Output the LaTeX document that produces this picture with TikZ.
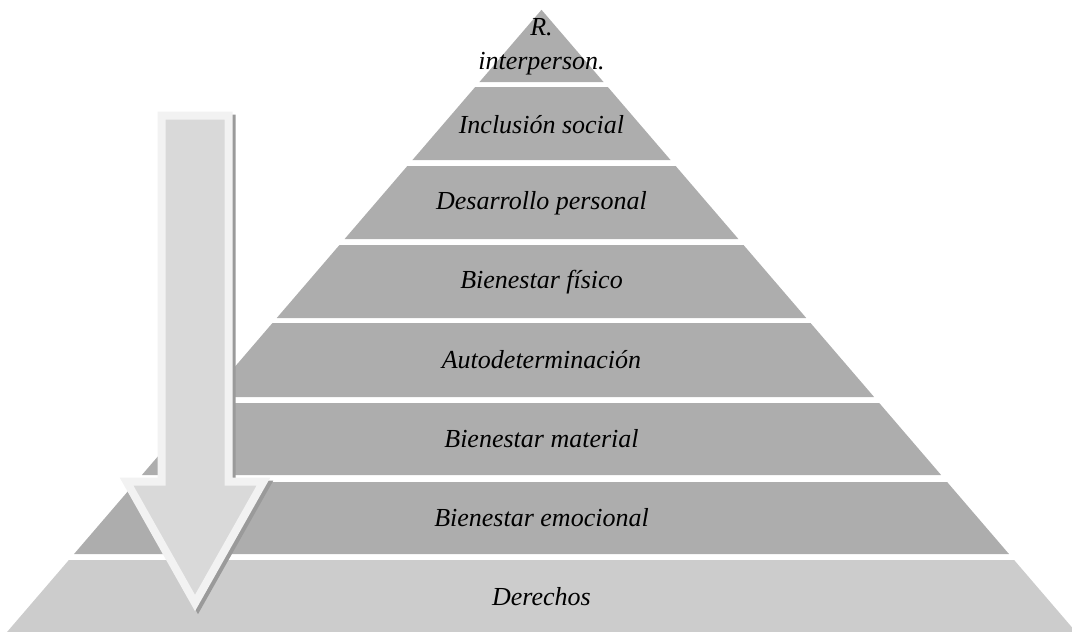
\documentclass[tikz,border=0pt]{standalone}
\usepackage{fontspec}
\setmainfont{Liberation Serif}
\definecolor{tiergray}{HTML}{ADADAD}
\definecolor{basegray}{HTML}{CCCCCC}
\definecolor{arrowfill}{HTML}{D9D9D9}
\definecolor{arrowrim}{HTML}{F2F2F2}
\definecolor{arrowshade}{HTML}{9A9A9A}
\begin{document}
\begin{tikzpicture}[x=1pt,y=-1pt,
  tier/.style={fill=tiergray,draw=none},
  basetier/.style={fill=basegray,draw=none},
  tierlabel/.style={font=\fontsize{26}{34}\selectfont\itshape,text=black,align=center,inner sep=0pt},
  arrowbody/.style={fill=arrowfill,draw=arrowrim,line width=8pt,line join=miter,miter limit=10},
  arrowshadow/.style={fill=arrowshade,draw=arrowshade,line width=8pt,line join=miter,miter limit=10}]
\useasboundingbox (0,0) rectangle (1072,632);
% pyramid axis, apex height and slope of the flanks
\def\cx{541.5}
\def\ay{9.8}
\def\k{0.859}
% upper seven tiers
\foreach \t/\b in {9.8/82, 87/160, 166/239, 245/318, 323/397, 403/475, 482/554}{
  \pgfmathsetmacro\wt{\k*(\t-\ay)}
  \pgfmathsetmacro\wb{\k*(\b-\ay)}
  \fill[tier] (\cx-\wt,\t) -- (\cx+\wt,\t) -- (\cx+\wb,\b) -- (\cx-\wb,\b) -- cycle;
}
% base tier, cut by the page edge
\begin{scope}
  \clip (0,0) rectangle (1072,632);
  \pgfmathsetmacro\wt{\k*(560-\ay)}
  \pgfmathsetmacro\wb{\k*(650-\ay)}
  \fill[basetier] (\cx-\wt,560) -- (\cx+\wt,560) -- (\cx+\wb,650) -- (\cx-\wb,650) -- cycle;
\end{scope}
% tier labels
\node[tierlabel] (t1) at (\cx,47) {R.\\interperson.};
\node[tierlabel] (t2) at (\cx,125) {Inclusión social};
\node[tierlabel] (t3) at (\cx,203) {Desarrollo personal};
\node[tierlabel] (t4) at (\cx,282) {Bienestar físico};
\node[tierlabel] (t5) at (\cx,360) {Autodeterminación};
\node[tierlabel] (t6) at (\cx,439) {Bienestar material};
\node[tierlabel] (t7) at (\cx,518) {Bienestar emocional};
\node[tierlabel] (t8) at (\cx,597) {Derechos};
% downward block arrow with drop shadow
\def\arrowpath{(161.5,115.5) -- (228.5,115.5) -- (228.5,481.5) -- (263.5,481.5) -- (195,603) -- (126.5,481.5) -- (161.5,481.5) -- cycle}
\begin{scope}[shift={(3,3)}]
  \path[arrowshadow] \arrowpath;
\end{scope}
\path[arrowbody] \arrowpath;
\end{tikzpicture}
\end{document}
